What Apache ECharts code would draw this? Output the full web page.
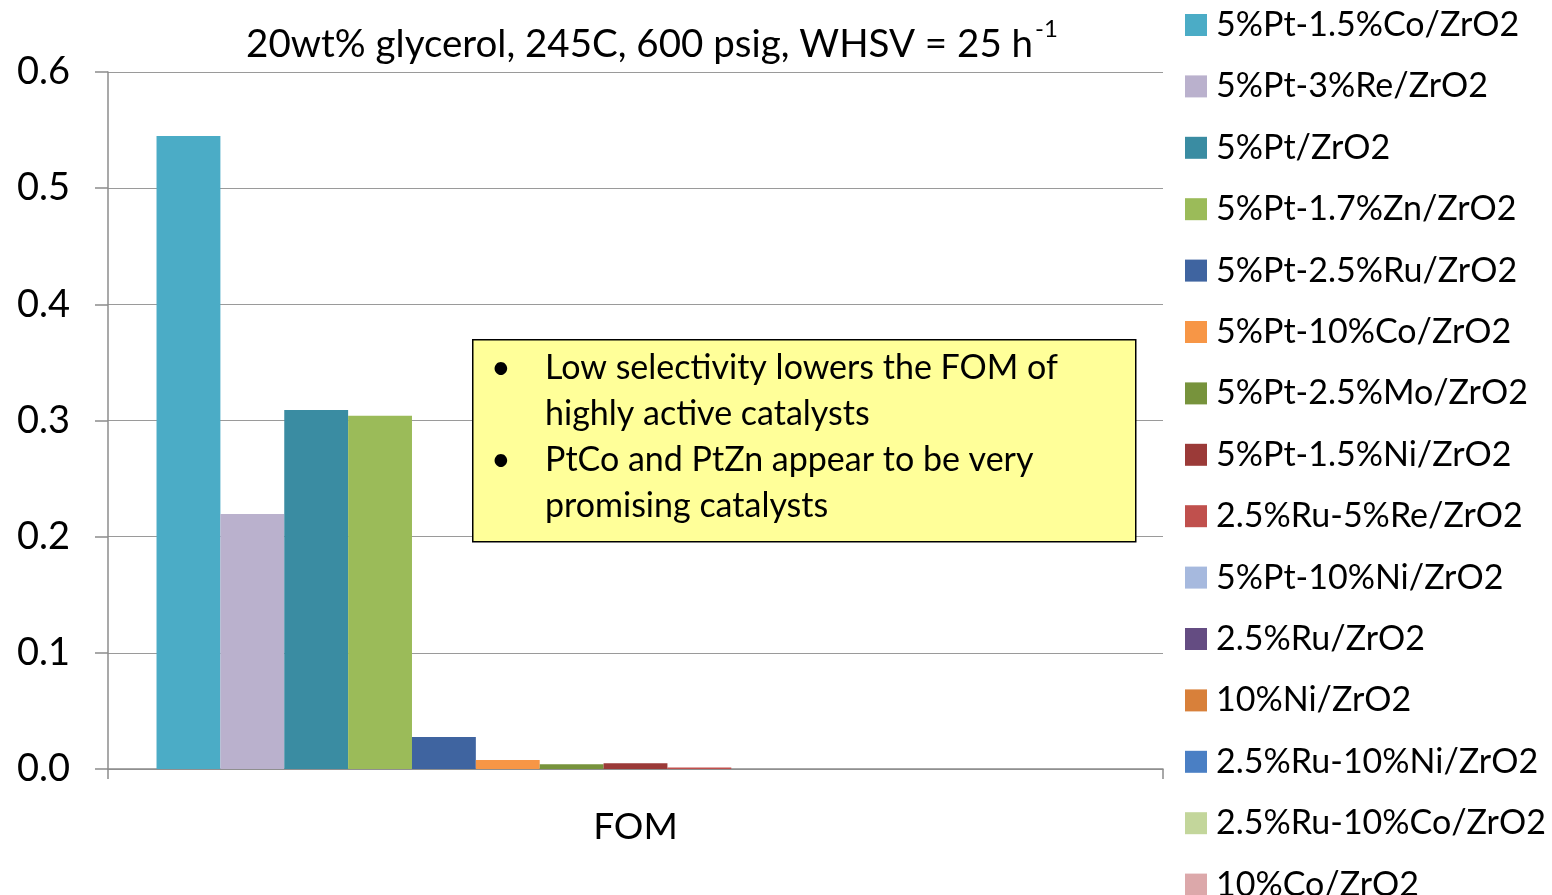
<!DOCTYPE html>
<html>
<head>
<meta charset="utf-8">
<script src="https://cdn.jsdelivr.net/npm/echarts@6/dist/echarts.min.js"></script>
<style>
  html, body { margin: 0; padding: 0; background: #fff; }
  #chart { width: 1552px; height: 895px; }
</style>
</head>
<body>
<div id="chart"></div>
<script>
const categories = ["FOM"];
const catalysts = [
  "5%Pt-1.5%Co/ZrO2", "5%Pt-3%Re/ZrO2", "5%Pt/ZrO2", "5%Pt-1.7%Zn/ZrO2",
  "5%Pt-2.5%Ru/ZrO2", "5%Pt-10%Co/ZrO2", "5%Pt-2.5%Mo/ZrO2", "5%Pt-1.5%Ni/ZrO2",
  "2.5%Ru-5%Re/ZrO2", "5%Pt-10%Ni/ZrO2", "2.5%Ru/ZrO2", "10%Ni/ZrO2",
  "2.5%Ru-10%Ni/ZrO2", "2.5%Ru-10%Co/ZrO2", "10%Co/ZrO2"
];
const fomValues = [0.545, 0.2195, 0.309, 0.304, 0.0275, 0.0078, 0.004, 0.005, 0.0013, 0, 0, 0, 0, 0, 0];
const colors = [
  "#4BACC6", "#BAB1CD", "#3A8CA2", "#9BBB59", "#3F64A0", "#F79646", "#77933C", "#9B3A38",
  "#C0504D", "#A6B9DE", "#644C82", "#D8803A", "#4A7FC4", "#C3D69B", "#DCA8AA"
];
const yTicks = [0, 0.1, 0.2, 0.3, 0.4, 0.5, 0.6];
const notes = [
  "Low selectivity lowers the FOM of",
  "highly active catalysts",
  "PtCo and PtZn appear to be very",
  "promising catalysts"
];

const font = "Lato, 'Open Sans', sans-serif";
const chart = echarts.init(document.getElementById("chart"));

const series = catalysts.map((name, i) => ({
  name: name,
  type: "bar",
  data: [fomValues[i]],
  barGap: "0%",
  barCategoryGap: "9.2%",
  itemStyle: { color: colors[i] },
  silent: true
}));

// annotation box text lines (y = line centre)
const noteY = [371, 417, 463, 509];
const noteGraphics = notes.map((t, i) => ({
  type: "text",
  left: 545,
  top: noteY[i] - 20,
  style: { text: t, font: "34px " + font, fill: "#000" }
}));
[0, 2].forEach(i => noteGraphics.push({
  type: "text",
  left: 491,
  top: noteY[i] - 20,
  style: { text: "\u2022", font: "34px " + font, fill: "#000" }
}));

chart.setOption({
  animation: false,
  backgroundColor: "#fff",
  title: {
    text: "{a|20wt% glycerol, 245C, 600 psig, WHSV = 25 h}{s|-1}",
    left: 647,
    top: 12,
    textAlign: "center",
    textStyle: {
      fontWeight: "normal",
      rich: {
        a: { fontFamily: font, fontSize: 38.5, fontWeight: "normal", color: "#000", padding: [8, 0, 0, 0] },
        s: { fontFamily: font, fontSize: 24, fontWeight: "normal", color: "#000", verticalAlign: "top", padding: [0, 0, 14, 2] }
      }
    }
  },
  legend: {
    orient: "vertical",
    left: 1185,
    top: 8,
    height: 1000,
    padding: 0,
    itemWidth: 22,
    itemHeight: 22,
    itemGap: 27.4,
    icon: "rect",
    textStyle: { fontFamily: font, fontSize: 34, color: "#000", lineHeight: 34, padding: [0, 0, 0, 4] },
    data: catalysts
  },
  grid: { left: 108, right: 389, top: 72, bottom: 126, containLabel: false },
  xAxis: {
    type: "category",
    data: categories,
    axisLine: { lineStyle: { color: "#8c8c8c", width: 1.5 } },
    axisTick: { show: true, length: 10, lineStyle: { color: "#8c8c8c", width: 1.5 } },
    axisLabel: { fontFamily: font, fontSize: 37, color: "#000", margin: 40 }
  },
  yAxis: {
    type: "value",
    min: 0,
    max: 0.6,
    interval: 0.1,
    axisLine: { show: true, lineStyle: { color: "#8c8c8c", width: 1.5 } },
    axisTick: { show: true, length: 13, lineStyle: { color: "#8c8c8c", width: 1.5 } },
    splitLine: { lineStyle: { color: "#9a9a9a", width: 1.2 } },
    axisLabel: {
      fontFamily: font, fontSize: 38, color: "#000", margin: 38,
      formatter: v => yTicks.includes(Math.round(v * 10) / 10) ? v.toFixed(1) : ""
    }
  },
  graphic: [
    {
      type: "rect",
      left: 472,
      top: 339,
      shape: { width: 663, height: 202 },
      style: { fill: "#FFFF99", stroke: "#000", lineWidth: 1.5 },
      z: 100
    },
    ...noteGraphics.map(g => Object.assign(g, { z: 101 }))
  ],
  series: series
});
</script>
</body>
</html>
